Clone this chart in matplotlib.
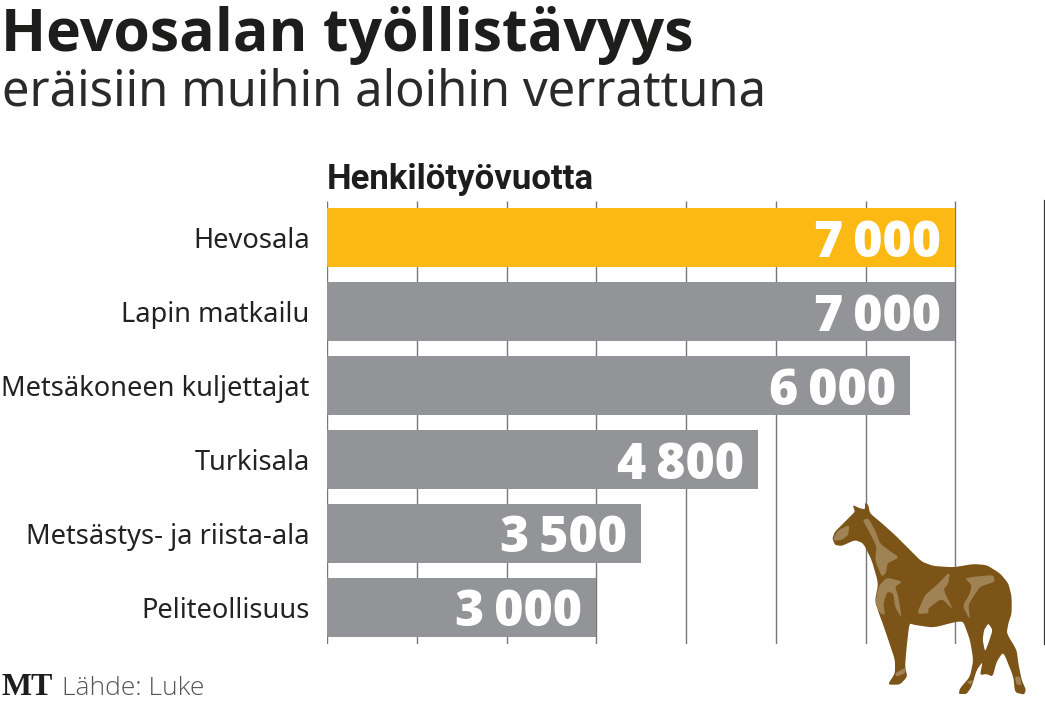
import matplotlib
matplotlib.use('Agg')
import matplotlib.pyplot as plt
from matplotlib.patches import Polygon

categories = ['Hevosala', 'Lapin matkailu', 'Metsäkoneen kuljettajat',
              'Turkisala', 'Metsästys- ja riista-ala', 'Peliteollisuus']
# bar lengths as drawn: the 6 000 bar really reaches about 6 500 on the grid
values = [7000, 7000, 6500, 4800, 3500, 3000]
value_labels = ['7\u2009000', '7\u2009000', '6\u2009000', '4\u2009800', '3\u2009500', '3\u2009000']
bar_colors = ['#fdb913', '#929497', '#929497', '#929497', '#929497', '#929497']
grid_ticks = [0, 1000, 2000, 3000, 4000, 5000, 6000, 7000]

# horse drawn from outlines, pixels of the zoomed crop
horse_body = [(97,175),(105,155),(130,130),(150,110),(165,95),(158,75),(180,85),(195,88),(195,68),
              (205,75),(210,100),(240,125),(285,165),(325,205),(365,245),(400,258),(460,262),
              (520,252),(560,255),(600,280),(625,310),(635,350),(635,400),(625,430),(620,460),
              (650,510),(655,550),(665,600),(678,630),(672,644),(645,637),(640,590),(610,515),
              (590,545),(578,590),(560,582),(540,585),(548,545),(530,570),(515,620),(500,642),
              (476,642),(480,625),(510,590),(520,540),(510,480),(490,425),(470,425),(400,443),
              (345,435),(328,430),(320,500),(315,560),(322,590),(300,614),(263,614),(285,580),
              (285,540),(265,480),(248,430),(235,395),(225,360),(235,310),(215,240),(190,190),
              (165,180),(125,198),(105,195)]
horse_hole = [(565,430),(578,450),(565,490),(555,515),(548,480),(552,450)]
horse_light = [
    [(188,120),(205,115),(225,150),(240,190),(265,210),(298,232),(262,250),(258,280),(245,290),
     (225,240),(230,200),(210,160)],
    [(100,175),(115,150),(148,135),(145,165),(125,180),(105,182)],
    [(235,320),(260,292),(308,305),(285,320),(295,350),(305,415),(285,380),(280,340),(262,335),
     (250,370),(255,405),(240,400),(225,370)],
    [(350,402),(375,345),(405,320),(450,275),(445,310),(430,330),(460,390),(425,355),(385,385),(385,400)],
    [(495,295),(525,290),(580,285),(585,305),(540,320),(520,350),(505,375),(510,420),(488,378),
     (510,340),(515,315)],
    [(285,580),(318,562),(315,580),(290,590)],
    [(500,605),(520,600),(512,615)],
    [(645,590),(660,590),(665,615),(650,615)],
]

W, H = 1045, 702
fig = plt.figure(figsize=(W/100, H/100), dpi=100)
ax = fig.add_axes([327/W, 1-644/H, 718/W, 443/H])

ax.barh(range(len(values)), values, height=0.8, color=bar_colors, zorder=3)
ax.set_xlim(0, 8000)
ax.set_ylim(5.5, -0.5)
ax.vlines(grid_ticks, 5.5, -0.5, color='#777777', lw=1, zorder=1)
ax.axvline(8000, color='#333333', lw=1.6, zorder=1, clip_on=False)
for s in ax.spines.values():
    s.set_visible(False)
ax.set_xticks([])
ax.set_yticks(range(len(categories)))
ax.set_yticklabels(categories, fontsize=19.6, family='Noto Sans', color='#222222')
ax.tick_params(axis='y', length=0, pad=12.5)

for i, v in enumerate(values):
    ax.annotate(value_labels[i], (v, i), xytext=(-10, -4.5), textcoords='offset points',
                ha='right', va='center', color='white', fontsize=36,
                fontweight=800, family=['Open Sans', 'DejaVu Sans'], zorder=4)

# overlay in pixels for header, footer and the horse
ov = fig.add_axes([0, 0, 1, 1], facecolor='none')
ov.set_xlim(0, W)
ov.set_ylim(H, 0)
ov.axis('off')
ov.text(1, 51, 'Hevosalan työllistävyys', fontsize=42.5, fontweight='bold',
        family='Open Sans', color='#1d1d1b', va='baseline')
ov.text(2, 106, 'eräisiin muihin aloihin verrattuna', fontsize=35.2, fontweight='normal',
        family='Noto Sans', color='#2a2a2a', va='baseline')
ov.text(327, 189, 'Henkilötyövuotta', fontsize=25, fontweight='bold',
        family='Roboto', color='#1d1d1b', va='baseline')
ov.text(2, 695, 'MT', fontsize=23, fontweight='bold', family='Liberation Serif',
        color='#1d1d1b', va='baseline')
ov.text(62, 695, 'Lähde: Luke', fontsize=19, fontweight='light', family='Open Sans',
        color='#555555', va='baseline')

def to_px(pts, rounds=2):
    # corner cutting so the outlines are not so angular
    for _ in range(rounds):
        new = []
        for k, (x0, y0) in enumerate(pts):
            x1, y1 = pts[(k + 1) % len(pts)]
            new.append((0.85*x0 + 0.15*x1, 0.85*y0 + 0.15*y1))
            new.append((0.15*x0 + 0.85*x1, 0.15*y0 + 0.85*y1))
        pts = new
    return [(800 + x/3, 480 + y/3) for x, y in pts]

ov.add_patch(Polygon(to_px(horse_body), closed=True, fc='#7c5418', ec='none', zorder=5))
ov.add_patch(Polygon(to_px(horse_hole), closed=True, fc='white', ec='none', zorder=6))
for p in horse_light:
    ov.add_patch(Polygon(to_px(p), closed=True, fc='#a08355', ec='none', zorder=6))

fig.savefig('out.png', dpi=100)
